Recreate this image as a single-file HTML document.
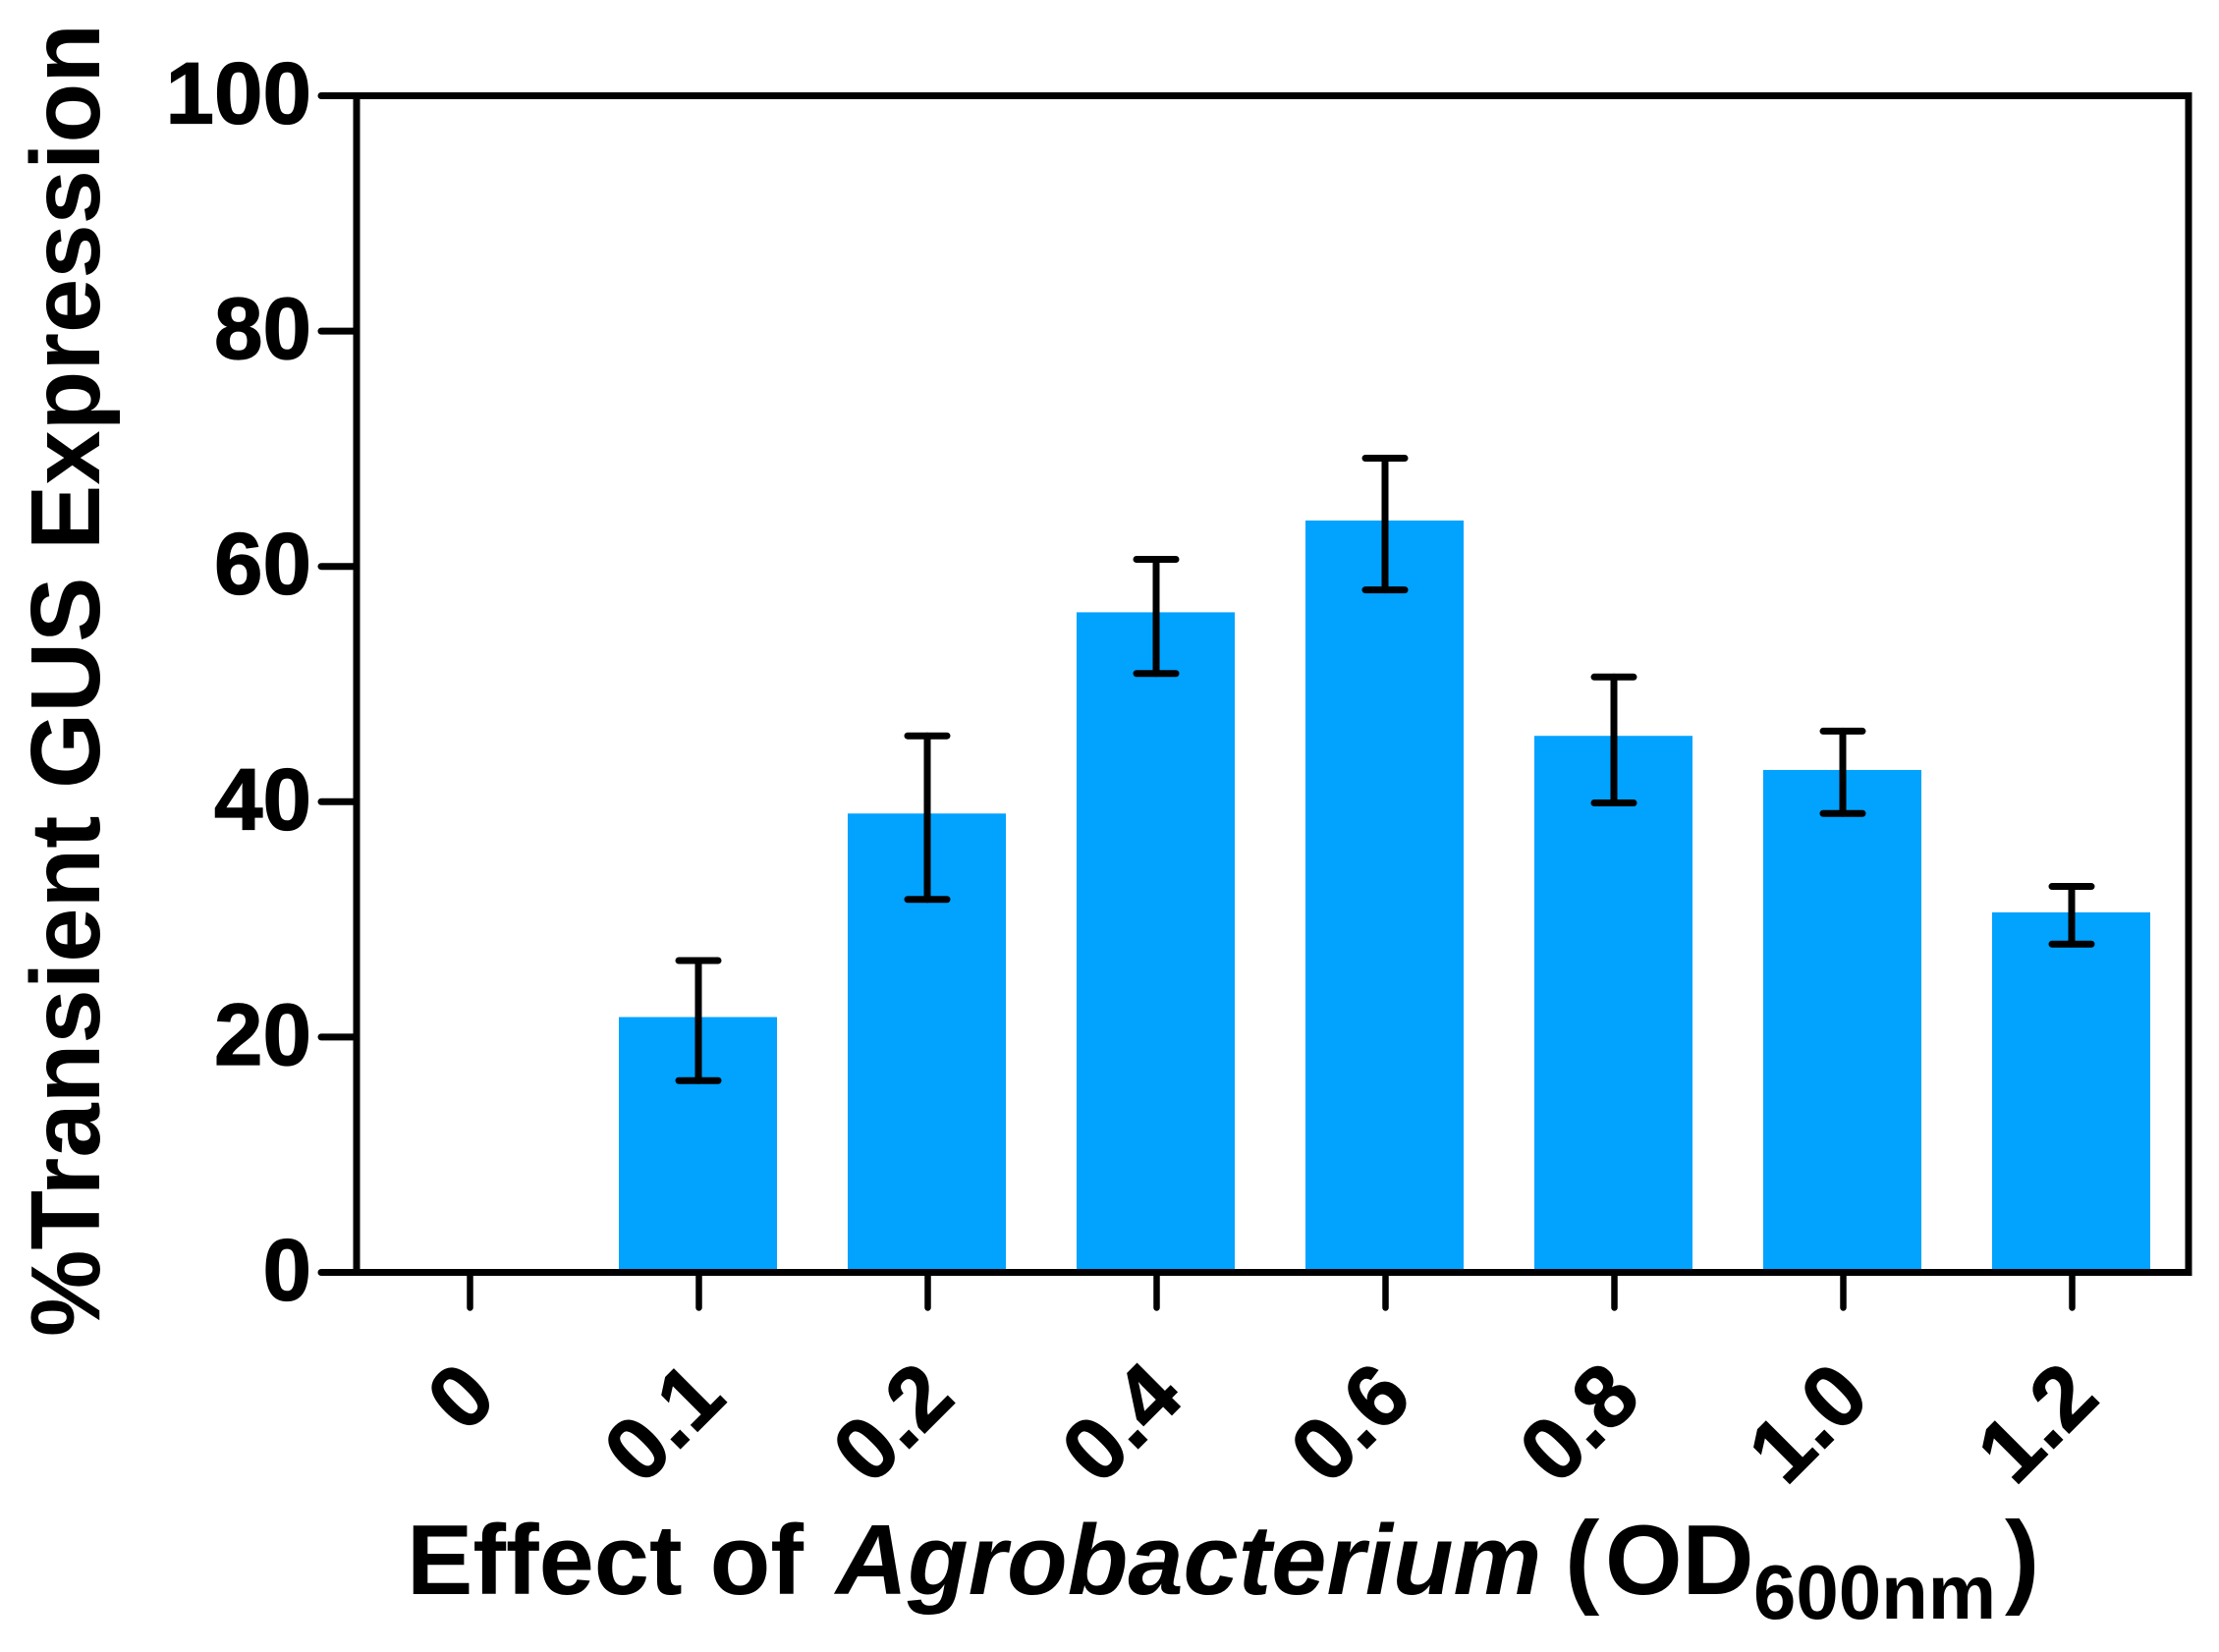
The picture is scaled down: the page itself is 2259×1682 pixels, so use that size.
<!DOCTYPE html>
<html>
<head>
<meta charset="utf-8">
<title>Effect of Agrobacterium on transient GUS expression</title>
<style>
html,body{margin:0;padding:0;background:#fff;width:2259px;height:1682px;overflow:hidden}
svg{display:block}
text{font-family:"Liberation Sans",Arial,sans-serif;font-weight:bold;fill:#000}
</style>
</head>
<body>
<svg id="chart" xmlns="http://www.w3.org/2000/svg" width="2259" height="1682" viewBox="0 0 2259 1682">
<rect x="0" y="0" width="2259" height="1682" fill="#fff"/>
<g id="bars"></g>
<g id="errors"></g>
<g id="axes"></g>
<text transform="translate(101,1361) rotate(-90)" font-size="100" textLength="1337" lengthAdjust="spacingAndGlyphs">%Transient GUS Expression</text>
<text y="1623" font-size="101"><tspan x="414">Effect of</tspan><tspan x="851" font-style="italic">Agrobacterium</tspan><tspan x="1593" font-size="106">(</tspan><tspan x="1634">OD</tspan><tspan x="1785" y="1648" font-size="78">600nm</tspan><tspan x="2041" y="1623" font-size="106">)</tspan></text>
</svg>
<script>
const categories = ['0', '0.1', '0.2', '0.4', '0.6', '0.8', '1.0', '1.2'];
const expression = [0, 21.7, 39.0, 56.1, 63.9, 45.6, 42.7, 30.6];
const errorHigh = [null, 26.5, 45.6, 60.6, 69.2, 50.6, 46.0, 32.8];
const errorLow = [null, 16.3, 31.7, 50.9, 58.0, 39.9, 39.0, 27.9];
const yTicks = [0, 20, 40, 60, 80, 100];

const NS = 'http://www.w3.org/2000/svg';
const plot = { left: 363, right: 2228, top: 97.5, bottom: 1295.5, firstX: 477.5, stepX: 233, barW: 161, capW: 44, tickOut: 39, sw: 7 };
function xPos(i) { return plot.firstX + plot.stepX * i; }
function yPos(v) { return plot.bottom - (plot.bottom - plot.top) * v / 100; }
function make(tag, attrs, parent) {
  const el = document.createElementNS(NS, tag);
  for (const k in attrs) el.setAttribute(k, attrs[k]);
  parent.appendChild(el);
  return el;
}
const barsG = document.getElementById('bars');
const errG = document.getElementById('errors');
const axG = document.getElementById('axes');

categories.forEach((c, i) => {
  if (expression[i] > 0) {
    const bar = make('rect', { x: xPos(i) - plot.barW / 2, y: yPos(expression[i]), width: plot.barW, height: plot.bottom - yPos(expression[i]), fill: '#02A2FF' }, barsG);
    
    
  }
  if (errorHigh[i] !== null) {
    const grp = make('g', { stroke: '#000', 'stroke-width': plot.sw, 'stroke-linecap': 'round', fill: 'none' }, errG);
    
    
    make('line', { x1: xPos(i) + 0.5, x2: xPos(i) + 0.5, y1: yPos(errorHigh[i]), y2: yPos(errorLow[i]) }, grp);
    make('line', { x1: xPos(i) - plot.capW / 2 + 2.5, x2: xPos(i) + plot.capW / 2 - 1.5, y1: yPos(errorHigh[i]), y2: yPos(errorHigh[i]) }, grp);
    make('line', { x1: xPos(i) - plot.capW / 2 + 2.5, x2: xPos(i) + plot.capW / 2 - 1.5, y1: yPos(errorLow[i]), y2: yPos(errorLow[i]) }, grp);
  }
});

const frame = make('path', {
  d: 'M' + plot.left + ' ' + plot.top + 'H' + plot.right + 'V' + plot.bottom + 'H' + plot.left + 'Z',
  fill: 'none', stroke: '#000', 'stroke-width': plot.sw, 'stroke-linejoin': 'miter'
}, axG);



yTicks.forEach(v => {
  const t = make('line', { x1: plot.left - plot.tickOut + 3, x2: plot.left, y1: yPos(v), y2: yPos(v), stroke: '#000', 'stroke-width': plot.sw, 'stroke-linecap': 'round' }, axG);
  
  
  const l = make('text', { x: 317, y: yPos(v) + 28, 'font-size': 89, 'text-anchor': 'end', stroke: '#000', 'stroke-width': 1.2 }, axG);
  
  
  l.textContent = v;
});

categories.forEach((c, i) => {
  const t = make('line', { x1: xPos(i) + 1, x2: xPos(i) + 1, y1: plot.bottom, y2: plot.bottom + 36, stroke: '#000', 'stroke-width': 6.5, 'stroke-linecap': 'round' }, axG);
  
  
  const l = make('text', { transform: 'translate(' + (xPos(i) + 31) + ',1426) rotate(-45)', 'font-size': 90, 'text-anchor': 'end', stroke: '#000', 'stroke-width': 1.2 }, axG);
  
  
  l.textContent = c;
});
</script>
</body>
</html>
